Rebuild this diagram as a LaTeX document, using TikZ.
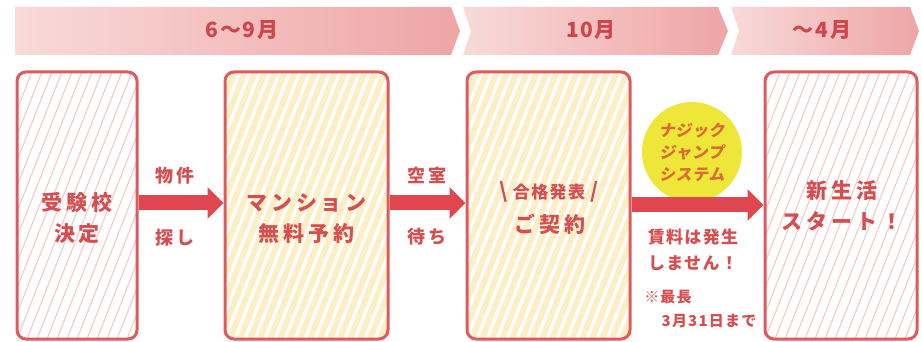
\documentclass[tikz,border=0pt]{standalone}
\usepackage{fontspec}
\newfontfamily\jp{Noto Sans CJK JP}[LetterSpace=18]
\newfontfamily\jps{Noto Sans CJK JP}[LetterSpace=8]
\newfontfamily\jpn{Noto Sans CJK JP}
\newfontfamily\jpi{Noto Sans CJK JP}[FakeSlant=0.15,LetterSpace=4]
\usetikzlibrary{arrows.meta}
\definecolor{bordred}{HTML}{E05A5D}
\definecolor{arrred}{HTML}{E0464F}
\definecolor{txtred}{HTML}{D64E50}
\definecolor{banL}{HTML}{F8DAD8}
\definecolor{banR}{HTML}{EEA5A6}
\definecolor{bantxt}{HTML}{D0454C}
\definecolor{pinkstripe}{HTML}{F6C9C8}
\definecolor{creamfill}{HTML}{FCEFC6}
\definecolor{yel}{HTML}{EFE63A}
\definecolor{circtxt}{HTML}{DA6A36}
\newcommand{\bigsl}[1]{{\fontsize{21}{21}\selectfont #1}}
\tikzset{
  box/.style={draw=bordred, line width=3pt, rounded corners=9pt, inner sep=0pt},
  pinkbox/.style={box, fill=white, path picture={
      \foreach \i in {-130,-120,...,180}
        \draw[pinkstripe, line width=1.1pt] ([xshift=\i pt]path picture bounding box.south west) -- ++(110pt,280pt);}},
  creambox/.style={box, fill=creamfill, path picture={
      \foreach \i in {-130,-120,...,200}
        \draw[white, line width=3.2pt] ([xshift=\i pt]path picture bounding box.south west) -- ++(110pt,280pt);}},
  boxtxt/.style={text=txtred, font=\jp\bfseries\fontsize{21}{31}\selectfont, align=center},
  lbl/.style={text=txtred, font=\jp\bfseries\fontsize{18}{20}\selectfont},
  note/.style={text=txtred, font=\jps\bfseries\fontsize{17}{26}\selectfont, align=center},
  small/.style={text=txtred, font=\jps\bfseries\fontsize{15}{18}\selectfont},
  bantext/.style={text=bantxt, font=\jps\bfseries\fontsize{21}{22}\selectfont},
  arr/.style={arrred, line width=15pt, -{Triangle[length=16pt,width=31pt]}}
}
\begin{document}
\begin{tikzpicture}[x=1pt,y=-1pt]
\useasboundingbox (0,0) rectangle (922,342);
% banner
\shade[left color=banL, right color=banR] (15,7) -- (451,7) -- (460,31) -- (451,55) -- (15,55) -- cycle;
\shade[left color=banL, right color=banR] (463,7) -- (718,7) -- (728,31) -- (718,55) -- (463,55) -- (471,31) -- cycle;
\shade[left color=banL, right color=banR] (731,7) -- (910,7) -- (919,31) -- (910,55) -- (731,55) -- (739,31) -- cycle;
\node[bantext] (p1) at (242,30) {6〜9月};
\node[bantext] (p2) at (591,30) {10月};
\node[bantext] (p3) at (822,30) {〜4月};
% boxes
\node[pinkbox, minimum width=120pt, minimum height=267pt] (b1) at (77,205.5) {};
\node[creambox, minimum width=163pt, minimum height=267pt] (b2) at (306.5,205.5) {};
\node[creambox, minimum width=163pt, minimum height=267pt] (b3) at (548.5,205.5) {};
\node[pinkbox, minimum width=152pt, minimum height=267pt] (b4) at (841,205.5) {};
\node[boxtxt] (t1) at (b1.center) [yshift=-13pt] {受験校\\決定};
\node[boxtxt] (t2) at (b2.center) [yshift=-13pt] {マンション\\無料予約};
\node[text=txtred, font=\jps\bfseries\fontsize{17}{20}\selectfont] (t3a) at (549,192) {\bigsl{\textbackslash}\,\,合格発表\,\,\bigsl{/}};
\node[boxtxt] (t3b) at (550,224) {ご契約};
\node[boxtxt] (t4) at (842,206) {新生活\\スタート！};
% circle
\node[circle, fill=yel, minimum size=100pt, inner sep=0pt, text=circtxt,
      font=\jpi\bfseries\fontsize{16}{22}\selectfont, align=center] (c1) at (692,152) {ナジック\\ジャンプ\\システム};
% arrows
\draw[arr] (b1.east |- 0,203) -- (b2.west |- 0,203);
\draw[arr] (b2.east |- 0,203) -- (b3.west |- 0,203);
\draw[arr] (b3.east |- 0,205) -- (b4.west |- 0,205);
% labels
\node[lbl] (l1) at (175,176) {物件};
\node[lbl] (l2) at (175,238) {探し};
\node[lbl] (l3) at (427,175) {空室};
\node[lbl] (l4) at (427,237) {待ち};
\node[note] (n1) at (693,250) {賃料は発生\\しません！};
\node[small] (n2) at (668,297) {※最長};
\node[small] (n3) at (709,321) {3月31日まで};
\end{tikzpicture}
\end{document}
